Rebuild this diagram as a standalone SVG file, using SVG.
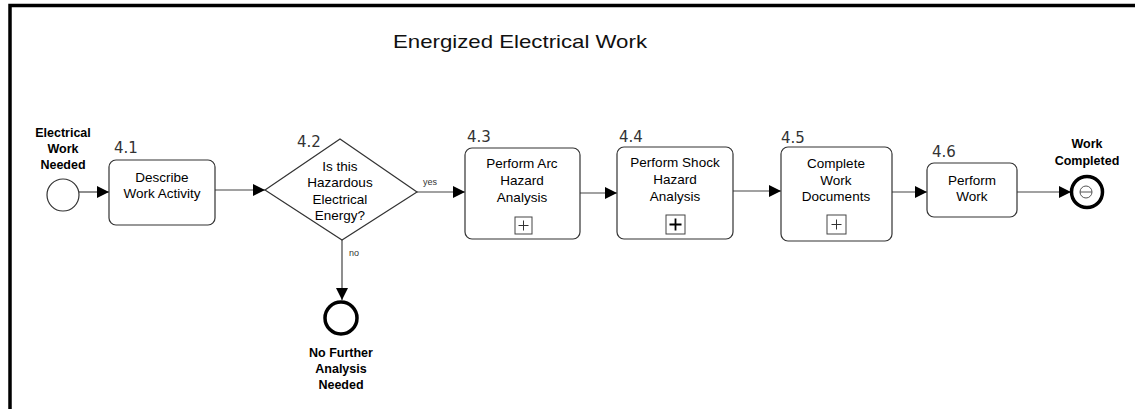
<svg xmlns="http://www.w3.org/2000/svg" width="1135" height="409" viewBox="0 0 1135 409">
<style>
.frame{fill:none;stroke:#000;stroke-width:3.5}
.task{fill:#fff;stroke:#333;stroke-width:1.2}
.lbl{font-family:"Liberation Sans",Arial,sans-serif;font-size:13.5px;fill:#000;text-anchor:middle}
.bold{font-family:"Liberation Sans",Arial,sans-serif;font-size:12.5px;font-weight:bold;fill:#000;text-anchor:middle}
.num{font-family:"DejaVu Sans",sans-serif;font-size:15px;fill:#333}
.small{font-family:"Liberation Sans",Arial,sans-serif;font-size:9px;fill:#333}
.flow{fill:none;stroke:#444;stroke-width:1.2}
.plus{fill:#fff;stroke:#444;stroke-width:1}
</style>
<defs>
<marker id="arr" viewBox="0 0 12 12" refX="12" refY="6" markerWidth="12" markerHeight="12" markerUnits="userSpaceOnUse" orient="auto">
<path d="M0,0 L12,6 L0,12 z" fill="#000"/>
</marker>
</defs>
<rect width="1135" height="409" fill="#fff"/>
<path class="frame" d="M10,409 L10,5.5 L1135,5.5"/>
<text x="520" y="48" font-family="Liberation Sans,Arial,sans-serif" font-size="18.5" fill="#111" text-anchor="middle" textLength="254" lengthAdjust="spacingAndGlyphs">Energized Electrical Work</text>

<g id="connectors">
<line class="flow" x1="79" y1="192" x2="109" y2="192" marker-end="url(#arr)"/>
<line class="flow" x1="215" y1="190" x2="265" y2="190" marker-end="url(#arr)"/>
<line class="flow" x1="417" y1="192" x2="465" y2="192" marker-end="url(#arr)"/>
<line class="flow" x1="342" y1="240" x2="342" y2="300" marker-end="url(#arr)"/>
<line class="flow" x1="580" y1="193" x2="617" y2="193" marker-end="url(#arr)"/>
<line class="flow" x1="733" y1="191" x2="781" y2="191" marker-end="url(#arr)"/>
<line class="flow" x1="892" y1="192" x2="927" y2="192" marker-end="url(#arr)"/>
<line class="flow" x1="1017" y1="192" x2="1071" y2="192" marker-end="url(#arr)"/>
<text class="small" x="423" y="185">yes</text>
<text class="small" x="349" y="256">no</text>
</g>

<g id="start">
<circle cx="63" cy="195" r="16" fill="#fff" stroke="#333" stroke-width="1.2"/>
<text class="bold" x="63" y="137">Electrical</text>
<text class="bold" x="63" y="153">Work</text>
<text class="bold" x="63" y="169">Needed</text>
</g>

<g id="t41">
<rect class="task" x="109" y="160" width="106" height="65" rx="7"/>
<text class="num" x="114" y="153">4.1</text>
<text class="lbl" x="162" y="182">Describe</text>
<text class="lbl" x="162" y="198">Work Activity</text>
</g>

<g id="g42">
<path d="M265,190 L340,139 L417,192 L342,240 Z" fill="#fff" stroke="#333" stroke-width="1.2"/>
<text class="num" x="297" y="147">4.2</text>
<text class="lbl" x="340" y="171">Is this</text>
<text class="lbl" x="340" y="187">Hazardous</text>
<text class="lbl" x="340" y="204">Electrical</text>
<text class="lbl" x="340" y="220">Energy?</text>
</g>

<g id="endNo">
<circle cx="341" cy="318" r="16" fill="#fff" stroke="#000" stroke-width="3.5"/>
<text class="bold" x="341" y="357">No Further</text>
<text class="bold" x="341" y="373">Analysis</text>
<text class="bold" x="341" y="389">Needed</text>
</g>

<g id="t43">
<rect class="task" x="465" y="148" width="115" height="91" rx="7"/>
<text class="num" x="467" y="142">4.3</text>
<text class="lbl" x="522" y="168">Perform Arc</text>
<text class="lbl" x="522" y="185">Hazard</text>
<text class="lbl" x="522" y="202">Analysis</text>
<rect class="plus" x="515" y="217" width="17" height="17"/>
<path d="M518.5,225.5 H528.5 M523.5,220.5 V230.5" stroke="#333" stroke-width="1"/>
</g>

<g id="t44">
<rect class="task" x="617" y="147" width="116" height="92" rx="7"/>
<text class="num" x="619" y="142">4.4</text>
<text class="lbl" x="675" y="167">Perform Shock</text>
<text class="lbl" x="675" y="184">Hazard</text>
<text class="lbl" x="675" y="201">Analysis</text>
<rect class="plus" x="666" y="215" width="19" height="19"/>
<path d="M669.5,224.5 H681.5 M675.5,218.5 V230.5" stroke="#000" stroke-width="1.8"/>
</g>

<g id="t45">
<rect class="task" x="781" y="147" width="111" height="94" rx="7"/>
<text class="num" x="781" y="143">4.5</text>
<text class="lbl" x="836" y="168">Complete</text>
<text class="lbl" x="836" y="185">Work</text>
<text class="lbl" x="836" y="201">Documents</text>
<rect class="plus" x="827" y="215" width="19" height="19"/>
<path d="M831.5,224.5 H841.5 M836.5,219.5 V229.5" stroke="#333" stroke-width="1"/>
</g>

<g id="t46">
<rect class="task" x="927" y="163" width="90" height="54" rx="7"/>
<text class="num" x="932" y="157">4.6</text>
<text class="lbl" x="972" y="185">Perform</text>
<text class="lbl" x="972" y="201">Work</text>
</g>

<g id="endDone">
<circle cx="1087" cy="192" r="15.5" fill="#fff" stroke="#000" stroke-width="3.5"/>
<circle cx="1086" cy="192" r="6" fill="none" stroke="#555" stroke-width="1"/>
<line x1="1080" y1="192" x2="1092" y2="192" stroke="#555" stroke-width="1"/>
<text class="bold" x="1087" y="148">Work</text>
<text class="bold" x="1087" y="165">Completed</text>
</g>
</svg>
